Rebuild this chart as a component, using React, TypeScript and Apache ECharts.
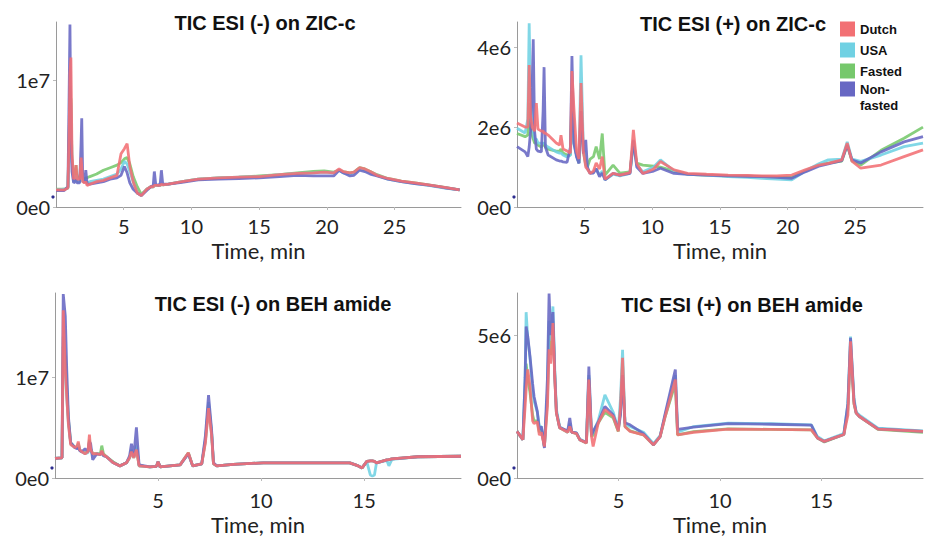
import React, { useEffect, useRef } from 'react';
import * as echarts from 'echarts';

// ---------- categories / styling keys ----------
const GROUPS = ['Dutch', 'USA', 'Fasted', 'Non-fasted'];
const GROUP_COLORS = ['#F27074', '#70D1E3', '#76C86C', '#6767C3'];
const TITLES = [
  'TIC ESI (-) on ZIC-c',
  'TIC ESI (+) on ZIC-c',
  'TIC ESI (-) on BEH amide',
  'TIC ESI (+) on BEH amide',
];
const X_NAME = 'Time, min';

// y tick labels (values in millions of counts)
const Y_TICKS_1 = ['0e0', '1e7'];
const Y_TICKS_2 = ['0e0', '2e6', '4e6'];
const Y_TICKS_3 = ['0e0', '1e7'];
const Y_TICKS_4 = ['0e0', '5e6'];

// ---------- Panel 1: TIC ESI (-) on ZIC-c (time min, intensity x1e6) ----------
const T1 = [0, 0.6, 0.88, 0.97, 1.03, 1.1, 1.18, 1.3, 1.42, 1.48, 1.55, 1.75, 1.85, 1.9, 1.97, 2.1, 2.2, 2.3, 2.5, 3.0, 3.5, 4.0, 4.5, 4.8, 5.05, 5.25, 5.45, 5.7, 6.0, 6.3, 6.7, 7.0, 7.18, 7.26, 7.36, 7.6, 7.7, 7.78, 7.88, 8.3, 9.3, 10.5, 12, 13.5, 15, 16.5, 17.8, 19, 19.8, 20.5, 20.9, 21.2, 21.7, 22.0, 22.4, 22.8, 23.2, 23.7, 24.5, 25.5, 26.5, 27.5, 28.7, 29.8];
const P1_DUTCH = [1.35, 1.35, 1.5, 6.0, 10.5, 11.8, 4.2, 2.2, 2.4, 3.3, 2.2, 2.2, 3.9, 3.2, 2.0, 1.9, 2.0, 1.7, 1.8, 2.0, 2.1, 2.3, 2.5, 4.2, 4.6, 5.0, 3.2, 2.0, 1.1, 0.9, 1.4, 1.6, 1.6, 1.7, 1.7, 1.7, 1.7, 1.8, 1.75, 1.8, 2.0, 2.2, 2.3, 2.35, 2.4, 2.55, 2.65, 2.7, 2.75, 2.7, 3.0, 2.8, 2.7, 2.75, 3.1, 3.0, 2.8, 2.5, 2.25, 2.05, 1.9, 1.75, 1.55, 1.35];
const P1_USA = [1.35, 1.4, 1.5, 5.0, 9.5, 8.0, 3.5, 2.0, 2.1, 2.5, 2.0, 2.0, 2.8, 2.6, 2.0, 2.0, 2.1, 1.9, 2.0, 2.1, 2.2, 2.4, 2.6, 3.0, 3.6, 3.4, 2.8, 2.0, 1.1, 0.9, 1.4, 1.6, 1.6, 1.7, 1.7, 1.7, 1.7, 1.8, 1.75, 1.8, 2.0, 2.2, 2.3, 2.35, 2.4, 2.55, 2.65, 2.7, 2.75, 2.7, 2.9, 2.7, 2.6, 2.7, 3.0, 2.9, 2.7, 2.5, 2.2, 2.0, 1.85, 1.7, 1.5, 1.35];
const P1_FASTED = [1.4, 1.4, 1.5, 5.5, 9.0, 8.5, 3.8, 2.3, 2.6, 3.3, 2.4, 2.3, 2.9, 2.8, 2.2, 2.2, 2.3, 2.3, 2.4, 2.6, 2.9, 3.1, 3.3, 3.5, 3.8, 3.9, 3.4, 2.4, 1.6, 1.0, 1.4, 1.6, 1.6, 1.7, 1.7, 1.7, 1.7, 1.8, 1.75, 1.8, 2.0, 2.2, 2.3, 2.35, 2.45, 2.55, 2.7, 2.8, 2.85, 2.75, 2.9, 2.8, 2.7, 2.75, 3.1, 3.0, 2.8, 2.55, 2.25, 2.05, 1.9, 1.75, 1.55, 1.35];
const P1_NONFASTED = [1.3, 1.3, 1.6, 9.0, 14.4, 6.0, 2.8, 1.9, 2.0, 2.2, 1.9, 1.9, 5.0, 7.0, 2.4, 1.9, 2.9, 1.8, 1.8, 1.9, 2.0, 2.2, 2.3, 2.5, 3.2, 2.7, 1.9, 1.4, 1.1, 0.9, 1.3, 1.6, 1.7, 2.8, 1.8, 1.7, 1.9, 2.9, 1.8, 1.8, 1.95, 2.15, 2.2, 2.25, 2.3, 2.4, 2.5, 2.45, 2.45, 2.45, 2.9, 2.7, 2.45, 2.5, 2.9, 2.8, 2.6, 2.45, 2.2, 2.0, 1.85, 1.72, 1.52, 1.35];

// ---------- Panel 2: TIC ESI (+) on ZIC-c ----------
const T2 = [0, 0.6, 0.8, 0.9, 1.0, 1.12, 1.2, 1.3, 1.43, 1.55, 1.8, 1.93, 2.0, 2.1, 2.3, 2.9, 3.15, 3.25, 3.4, 3.7, 3.95, 4.06, 4.2, 4.4, 4.58, 4.73, 4.9, 5.08, 5.2, 5.4, 5.65, 5.85, 6.1, 6.3, 6.5, 7.1, 7.6, 8.35, 8.6, 8.85, 9.3, 10.1, 10.6, 11.6, 12.6, 14, 15.6, 17, 18.1, 19.2, 20.3, 21.3, 22.3, 23.0, 24.0, 24.4, 24.75, 25.4, 26.9, 28.6, 30.0];
const P2_DUTCH = [2.1, 2.0, 2.0, 3.55, 2.3, 2.0, 1.95, 1.9, 2.6, 1.95, 1.9, 1.9, 1.85, 1.85, 1.8, 1.6, 1.55, 1.8, 1.45, 1.4, 1.35, 3.4, 2.5, 1.4, 1.2, 3.1, 1.4, 1.0, 0.95, 0.84, 0.9, 1.1, 0.95, 1.26, 0.7, 0.84, 0.8, 0.86, 1.93, 1.09, 0.84, 0.95, 1.14, 0.93, 0.84, 0.82, 0.8, 0.79, 0.78, 0.78, 0.8, 0.93, 1.05, 1.09, 1.18, 1.6, 1.15, 0.97, 1.05, 1.26, 1.43];
const P2_USA = [1.97, 1.85, 2.2, 4.6, 2.8, 2.2, 1.9, 1.7, 1.7, 1.6, 1.6, 1.6, 1.6, 1.55, 1.5, 1.38, 1.35, 1.35, 1.3, 1.25, 1.3, 2.5, 1.6, 1.3, 1.1, 3.8, 1.5, 1.1, 0.95, 0.85, 0.88, 0.95, 0.8, 0.9, 0.68, 0.82, 0.78, 0.84, 1.6, 1.05, 0.88, 1.0, 1.18, 0.9, 0.82, 0.8, 0.76, 0.74, 0.72, 0.7, 0.68, 0.9, 1.08, 1.18, 1.2, 1.63, 1.2, 1.14, 1.3, 1.51, 1.6];
const P2_FASTED = [1.84, 1.76, 1.8, 2.6, 2.0, 1.8, 1.7, 1.6, 1.6, 1.55, 1.5, 1.6, 1.55, 1.5, 1.45, 1.4, 1.4, 1.45, 1.35, 1.3, 1.3, 2.9, 1.7, 1.3, 1.1, 2.6, 1.4, 1.05, 1.0, 1.2, 1.26, 1.51, 1.2, 1.84, 0.8, 1.05, 0.85, 0.88, 1.65, 1.1, 1.05, 1.02, 1.0, 0.9, 0.82, 0.8, 0.78, 0.77, 0.76, 0.75, 0.74, 0.9, 1.05, 1.1, 1.15, 1.55, 1.15, 1.05, 1.42, 1.72, 2.0];
const P2_NONFASTED = [1.51, 1.38, 1.26, 1.5, 1.9, 3.0, 4.2, 1.9, 1.45, 1.4, 1.38, 2.4, 3.5, 1.5, 1.3, 1.18, 1.15, 1.15, 1.13, 1.12, 1.5, 3.78, 1.6, 1.25, 1.09, 2.4, 1.34, 1.68, 1.0, 0.84, 0.85, 0.96, 0.76, 0.85, 0.68, 0.84, 0.8, 0.84, 1.68, 1.0, 0.84, 0.9, 0.97, 0.84, 0.82, 0.8, 0.78, 0.77, 0.76, 0.74, 0.72, 0.88, 1.02, 1.08, 1.16, 1.55, 1.18, 1.1, 1.38, 1.63, 1.76];

// ---------- Panel 3: TIC ESI (-) on BEH amide ----------
const T3 = [0, 0.34, 0.4, 0.5, 0.57, 0.65, 0.76, 0.97, 1.08, 1.13, 1.2, 1.3, 1.46, 1.6, 1.67, 1.73, 1.83, 2.03, 2.2, 2.27, 2.35, 2.5, 2.83, 3.15, 3.47, 3.62, 3.71, 3.82, 3.95, 4.08, 4.6, 4.92, 5.0, 5.1, 6.07, 6.47, 6.68, 7.12, 7.3, 7.45, 7.6, 7.69, 7.85, 8.65, 10.1, 11.9, 14.3, 14.65, 14.9, 15.13, 15.3, 15.4, 15.5, 15.6, 16.1, 16.2, 16.35, 17.6, 19.7];
const P3_DUTCH = [1.95, 2.0, 16.6, 10.7, 8.0, 5.3, 3.3, 3.0, 3.2, 3.6, 2.8, 2.6, 2.4, 2.6, 4.3, 2.8, 2.4, 2.4, 2.3, 2.7, 2.3, 2.1, 1.5, 1.2, 1.5, 2.0, 2.6, 2.0, 2.8, 1.2, 1.1, 1.15, 1.6, 1.1, 1.3, 2.5, 1.2, 1.4, 3.5, 6.9, 4.2, 1.4, 1.2, 1.35, 1.5, 1.5, 1.5, 1.25, 1.0, 1.65, 1.7, 1.7, 1.65, 1.5, 1.8, 1.82, 1.9, 2.1, 2.15];
const P3_USA = [1.95, 2.0, 14.0, 11.0, 8.0, 5.5, 3.4, 3.0, 3.0, 3.3, 2.8, 2.6, 2.4, 2.5, 3.5, 2.7, 2.3, 2.4, 2.3, 2.6, 2.2, 2.1, 1.5, 1.2, 1.5, 2.0, 2.8, 2.0, 3.2, 1.2, 1.1, 1.15, 1.6, 1.1, 1.3, 2.4, 1.2, 1.4, 3.8, 7.5, 4.5, 1.4, 1.2, 1.35, 1.5, 1.5, 1.5, 1.25, 1.0, 1.6, 0.3, 0.2, 0.3, 1.5, 1.75, 1.2, 1.85, 2.1, 2.15];
const P3_FASTED = [1.95, 2.0, 13.0, 12.0, 9.0, 5.8, 3.5, 3.0, 3.1, 3.4, 2.8, 2.6, 2.5, 2.6, 3.8, 2.9, 2.4, 2.4, 2.4, 3.2, 2.4, 2.1, 1.6, 1.2, 1.5, 2.0, 2.7, 2.0, 3.0, 1.2, 1.1, 1.15, 1.6, 1.1, 1.3, 2.5, 1.2, 1.4, 3.7, 7.2, 4.4, 1.4, 1.2, 1.35, 1.5, 1.5, 1.5, 1.25, 1.0, 1.65, 1.7, 1.7, 1.65, 1.5, 1.8, 1.82, 1.9, 2.1, 2.15];
const P3_NONFASTED = [1.95, 2.0, 18.2, 16.0, 10.7, 6.1, 3.5, 3.0, 2.9, 3.0, 2.7, 2.6, 2.9, 2.6, 3.6, 3.4, 1.8, 2.4, 2.3, 2.6, 2.2, 2.1, 1.5, 1.2, 1.5, 2.2, 3.4, 2.1, 5.0, 1.3, 1.1, 1.15, 1.6, 1.1, 1.3, 2.4, 1.2, 1.4, 4.2, 8.2, 4.7, 1.5, 1.2, 1.35, 1.5, 1.5, 1.5, 1.25, 1.0, 1.65, 1.7, 1.7, 1.65, 1.5, 1.8, 1.82, 1.9, 2.1, 2.15];

// ---------- Panel 4: TIC ESI (+) on BEH amide ----------
const T4 = [0, 0.29, 0.4, 0.45, 0.53, 0.64, 0.77, 0.84, 1.0, 1.1, 1.2, 1.35, 1.5, 1.58, 1.66, 1.77, 1.86, 1.94, 2.1, 2.5, 2.6, 2.7, 2.93, 3.09, 3.42, 3.54, 3.67, 3.75, 4.0, 4.33, 4.74, 4.99, 5.1, 5.2, 5.32, 5.57, 6.23, 6.72, 7.05, 7.3, 7.8, 7.91, 8.7, 10.4, 12.5, 14.5, 14.8, 15.14, 16.1, 16.3, 16.43, 16.6, 16.71, 16.87, 17.78, 20];
const P4_DUTCH = [1.63, 1.34, 2.5, 3.1, 3.8, 3.2, 2.0, 1.9, 1.97, 1.5, 1.6, 1.1, 2.5, 4.5, 4.0, 5.42, 3.5, 2.28, 1.76, 1.6, 1.8, 1.6, 1.55, 1.34, 1.22, 3.44, 1.45, 1.1, 1.92, 2.39, 2.15, 1.63, 2.5, 4.2, 1.79, 1.63, 1.51, 1.16, 1.45, 2.15, 3.44, 1.51, 1.6, 1.71, 1.7, 1.68, 1.4, 1.28, 1.52, 2.2, 4.78, 2.6, 2.27, 2.15, 1.71, 1.63];
const P4_USA = [1.63, 1.34, 3.5, 5.8, 4.9, 4.2, 3.0, 2.7, 2.3, 1.8, 1.8, 1.1, 3.0, 5.5, 4.8, 6.0, 3.8, 2.4, 1.8, 1.6, 1.9, 1.6, 1.58, 1.36, 1.24, 3.6, 1.5, 1.6, 2.0, 2.91, 2.3, 1.7, 2.8, 4.48, 1.9, 1.8, 1.6, 1.2, 1.48, 2.2, 3.6, 1.6, 1.8, 1.92, 1.9, 1.86, 1.45, 1.3, 1.55, 2.6, 4.95, 2.8, 2.3, 2.2, 1.74, 1.65];
const P4_FASTED = [1.63, 1.34, 3.0, 4.0, 3.5, 3.0, 2.2, 2.0, 2.0, 1.6, 1.7, 1.1, 2.8, 5.0, 4.3, 5.5, 3.6, 2.3, 1.76, 1.6, 1.85, 1.6, 1.55, 1.34, 1.22, 3.5, 1.45, 1.5, 1.92, 2.3, 2.1, 1.63, 2.4, 4.0, 1.8, 1.65, 1.51, 1.16, 1.45, 2.15, 3.3, 1.51, 1.62, 1.72, 1.7, 1.68, 1.4, 1.26, 1.52, 2.4, 4.6, 2.6, 2.27, 2.15, 1.7, 1.6];
const P4_NONFASTED = [1.63, 1.34, 3.5, 5.3, 4.95, 4.25, 3.3, 2.85, 2.33, 1.7, 1.8, 1.05, 3.5, 6.45, 5.0, 5.8, 3.6, 2.3, 1.76, 1.65, 2.1, 1.6, 1.58, 1.34, 1.24, 3.9, 1.5, 1.63, 1.95, 2.5, 2.2, 1.7, 2.2, 3.6, 1.93, 1.86, 1.55, 1.16, 1.45, 2.25, 3.79, 1.7, 1.78, 1.9, 1.88, 1.85, 1.4, 1.28, 1.52, 2.6, 4.9, 2.7, 2.27, 2.15, 1.72, 1.63];

const PANEL_TIMES = [T1, T2, T3, T4];
const PANEL_VALUES = [
  [P1_DUTCH, P1_USA, P1_FASTED, P1_NONFASTED],
  [P2_DUTCH, P2_USA, P2_FASTED, P2_NONFASTED],
  [P3_DUTCH, P3_USA, P3_FASTED, P3_NONFASTED],
  [P4_DUTCH, P4_USA, P4_FASTED, P4_NONFASTED],
];
const Y_TICKS = [Y_TICKS_1, Y_TICKS_2, Y_TICKS_3, Y_TICKS_4];

// ---------- layout (kept out of data) ----------
const GRIDS = [
  { left: 56, top: 22, width: 405, height: 185 },
  { left: 517, top: 22, width: 406, height: 185 },
  { left: 55, top: 293, width: 406, height: 185 },
  { left: 517, top: 293, width: 406, height: 185 },
];
const X_MAX = [29.9, 30, 19.7, 20];
const Y_MAX = [14.6, 4.63, 18.3, 6.47];
const Y_INTERVAL = [10, 2, 10, 5];
const TITLE_POS = [
  [265, 23],
  [733, 24],
  [273, 304],
  [742, 305],
];
const NAME_GAP = [32, 32, 35, 35];
const LABEL_MARGIN = [9, 9, 12, 12];
const DRAW_ORDER = [2, 1, 3, 0];

const LABEL_FONT = 'Lato, "Open Sans", sans-serif';
const LEGEND_FONT = '"Liberation Sans", Arial, sans-serif';
const AXIS_COLOR = '#9a9a9a';
// square icon in the top half of a two-line legend item
const TALL_SQUARE_ICON = 'path://M0,0H15V15H0Z M0,31H0.01V31.01H0Z';

export default function App() {
  const ref = useRef<HTMLDivElement>(null);

  useEffect(() => {
    document.body.style.margin = '0';
    if (!ref.current) return;
    const chart = echarts.init(ref.current, null, { renderer: 'svg' });

    const xAxes = GRIDS.map((_, p) => ({
      type: 'value',
      gridIndex: p,
      min: 0,
      max: X_MAX[p],
      interval: 5,
      name: X_NAME,
      nameLocation: 'middle',
      nameGap: NAME_GAP[p],
      nameTextStyle: { fontFamily: LABEL_FONT, fontSize: 22, color: '#222' },
      axisLine: { show: true, lineStyle: { color: AXIS_COLOR, width: 1 } },
      axisTick: { show: true, length: 3, lineStyle: { color: '#bbb' } },
      splitLine: { show: false },
      axisLabel: {
        fontFamily: LABEL_FONT,
        fontSize: 20,
        color: '#222',
        margin: LABEL_MARGIN[p],
        showMinLabel: false,
        showMaxLabel: false,
        formatter: (v: number) =>
          v > 0 && v < X_MAX[p] - 0.5 && Math.abs(v % 5) < 1e-6 ? String(v) : '',
      },
    }));

    const yAxes = GRIDS.map((_, p) => ({
      type: 'value',
      gridIndex: p,
      min: 0,
      max: Y_MAX[p],
      interval: Y_INTERVAL[p],
      axisLine: { show: true, lineStyle: { color: AXIS_COLOR, width: 1 } },
      axisTick: { show: true, length: 3, lineStyle: { color: '#bbb' } },
      splitLine: { show: false },
      axisLabel: {
        fontFamily: LABEL_FONT,
        fontSize: 20,
        color: '#222',
        margin: 6,
        showMaxLabel: false,
        formatter: (v: number) => {
          const k = Math.round(v / Y_INTERVAL[p]);
          if (Math.abs(v - k * Y_INTERVAL[p]) > 1e-6) return '';
          return Y_TICKS[p][k] ?? '';
        },
      },
    }));

    const series: any[] = [];
    PANEL_TIMES.forEach((times, p) => {
      DRAW_ORDER.forEach((g) => {
        const vals = PANEL_VALUES[p][g];
        series.push({
          type: 'line',
          name: GROUPS[g],
          xAxisIndex: p,
          yAxisIndex: p,
          data: times.map((t, i) => [t, vals[i]]),
          showSymbol: false,
          symbol: 'none',
          lineStyle: { width: 2.8, color: GROUP_COLORS[g], opacity: 0.88 },
          itemStyle: { color: GROUP_COLORS[g] },
          emphasis: { disabled: true },
        });
      });
    });

    const legendText = {
      fontFamily: LEGEND_FONT,
      fontWeight: 'bold',
      fontSize: 13,
      color: '#111',
      lineHeight: 16,
    };

    const option: any = {
      animation: false,
      title: TITLES.map((t, p) => ({
        text: t,
        left: TITLE_POS[p][0],
        top: TITLE_POS[p][1],
        textAlign: 'center',
        textVerticalAlign: 'middle',
        padding: 0,
        textStyle: {
          fontFamily: LEGEND_FONT,
          fontWeight: 'bold',
          fontSize: 20,
          color: '#111',
        },
      })),
      legend: [
        {
          orient: 'vertical',
          left: 840,
          top: 21,
          padding: 0,
          itemGap: 5,
          itemWidth: 15,
          itemHeight: 15,
          icon: 'rect',
          selectedMode: false,
          textStyle: legendText,
          data: GROUPS.slice(0, 3).map((name, i) => ({ name, itemStyle: { color: GROUP_COLORS[i] } })),
        },
        {
          orient: 'vertical',
          left: 840,
          top: 81,
          padding: 0,
          itemWidth: 15,
          itemHeight: 31,
          icon: TALL_SQUARE_ICON,
          selectedMode: false,
          textStyle: legendText,
          data: [{ name: GROUPS[3], itemStyle: { color: GROUP_COLORS[3] } }],
          formatter: (name: string) => name.replace('-', '-\n'),
        },
      ],
      grid: GRIDS.map((g) => ({ ...g, containLabel: false })),
      xAxis: xAxes,
      yAxis: yAxes,
      series,
      graphic: [
        [53, 197],
        [514, 197],
        [52, 468],
        [514, 468],
      ].map(([cx, cy]) => ({
        type: 'circle',
        shape: { cx, cy, r: 1.6 },
        style: { fill: '#2d2d8f' },
        silent: true,
      })),
    };

    chart.setOption(option);
    return () => chart.dispose();
  }, []);

  return (
    <div
      ref={ref}
      style={{ position: 'fixed', left: 0, top: 0, width: 926, height: 538, background: '#fff' }}
    />
  );
}
